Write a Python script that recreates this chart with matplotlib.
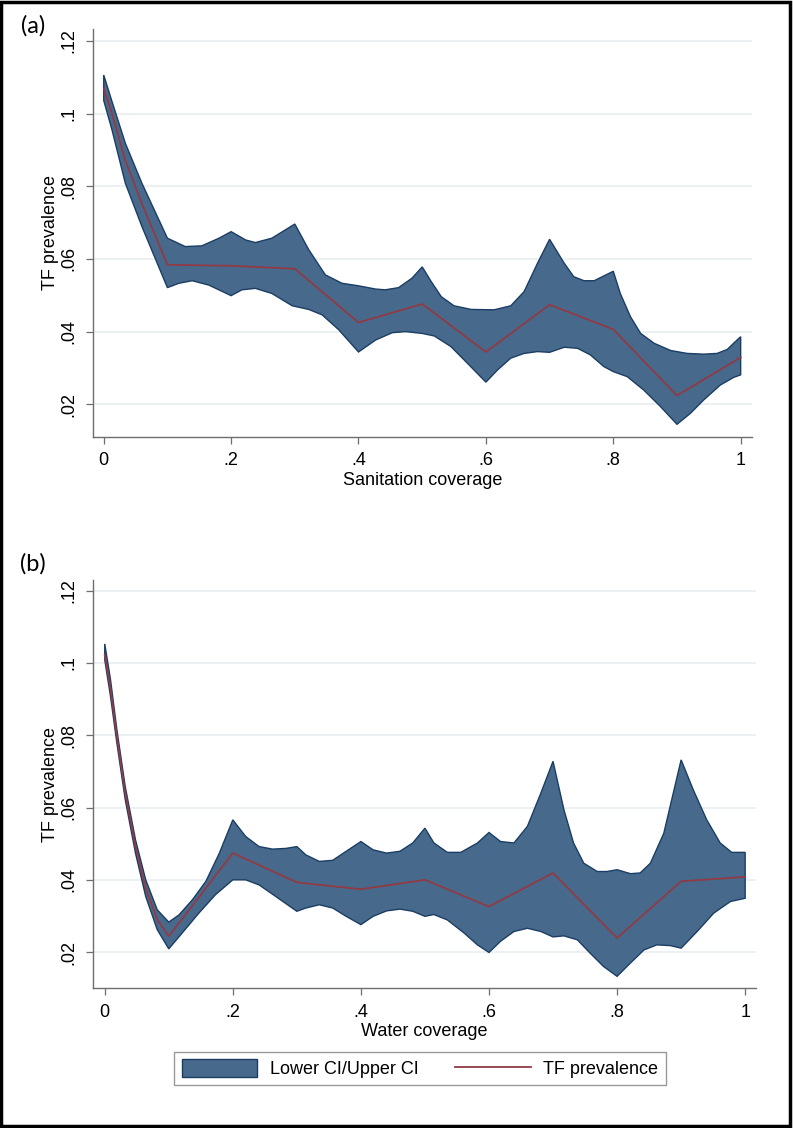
import matplotlib
matplotlib.use("Agg")
import matplotlib.pyplot as plt
from matplotlib.patches import Patch, Rectangle
from matplotlib.lines import Line2D
import numpy as np

plt.rcParams['font.family'] = ['Liberation Sans', 'DejaVu Sans']

# ---- panel (a): sanitation coverage ----
san_x = [0.0, 0.013, 0.034, 0.060, 0.1, 0.2, 0.3, 0.4, 0.5, 0.6, 0.7, 0.8, 0.9, 1.0]
san_tf = [0.1070, 0.1000, 0.0870, 0.0752, 0.0584, 0.0581, 0.0573, 0.0425, 0.0476,
          0.0344, 0.0474, 0.0406, 0.0224, 0.0329]

san_up_x = [0.000, 0.013, 0.034, 0.060, 0.100, 0.128, 0.154, 0.181, 0.200, 0.223,
            0.238, 0.264, 0.300, 0.322, 0.348, 0.374, 0.400, 0.427, 0.442, 0.463,
            0.484, 0.500, 0.514, 0.530, 0.550, 0.577, 0.613, 0.639, 0.660, 0.681,
            0.700, 0.723, 0.738, 0.754, 0.770, 0.785, 0.800, 0.811, 0.827, 0.843,
            0.864, 0.890, 0.916, 0.942, 0.963, 0.979, 0.989, 1.000]
san_up = [0.1106, 0.1033, 0.0918, 0.0808, 0.0657, 0.0634, 0.0636, 0.0657, 0.0675, 0.0652,
          0.0645, 0.0657, 0.0696, 0.0625, 0.0556, 0.0533, 0.0526, 0.0517, 0.0515, 0.0521,
          0.0547, 0.0578, 0.0538, 0.0496, 0.0471, 0.0461, 0.0460, 0.0471, 0.0510, 0.0588,
          0.0654, 0.0588, 0.0551, 0.0540, 0.0540, 0.0553, 0.0566, 0.0505, 0.0441, 0.0395,
          0.0368, 0.0348, 0.0340, 0.0338, 0.0340, 0.0351, 0.0368, 0.0386]

san_lo_x = [0.000, 0.013, 0.034, 0.060, 0.100, 0.118, 0.139, 0.165, 0.200, 0.217,
            0.238, 0.264, 0.296, 0.322, 0.343, 0.369, 0.400, 0.427, 0.453, 0.474,
            0.500, 0.519, 0.545, 0.571, 0.600, 0.618, 0.639, 0.660, 0.681, 0.700,
            0.723, 0.744, 0.764, 0.785, 0.800, 0.822, 0.848, 0.874, 0.900, 0.921,
            0.942, 0.968, 0.989, 1.000]
san_lo = [0.1036, 0.0955, 0.0808, 0.0689, 0.0521, 0.0533, 0.0540, 0.0528, 0.0499, 0.0515,
          0.0519, 0.0505, 0.0471, 0.0461, 0.0446, 0.0405, 0.0344, 0.0377, 0.0397, 0.0400,
          0.0395, 0.0388, 0.0359, 0.0313, 0.0261, 0.0294, 0.0327, 0.0340, 0.0345, 0.0343,
          0.0357, 0.0354, 0.0336, 0.0304, 0.0290, 0.0276, 0.0239, 0.0194, 0.0145, 0.0175,
          0.0212, 0.0253, 0.0274, 0.0281]

# ---- panel (b): water coverage ----
wat_x = [0.0, 0.009, 0.019, 0.032, 0.048, 0.064, 0.082, 0.1, 0.2, 0.3, 0.4, 0.5,
         0.6, 0.7, 0.8, 0.9, 1.0]
wat_tf = [0.1023, 0.0930, 0.0797, 0.0640, 0.0493, 0.0377, 0.0290, 0.0244, 0.0474, 0.0393,
          0.0374, 0.0400, 0.0326, 0.0419, 0.0239, 0.0396, 0.0408]

wat_up_x = [0.000, 0.009, 0.019, 0.032, 0.048, 0.064, 0.082, 0.100, 0.116, 0.137,
            0.158, 0.179, 0.200, 0.220, 0.241, 0.262, 0.283, 0.300, 0.314, 0.335,
            0.356, 0.377, 0.400, 0.419, 0.440, 0.461, 0.481, 0.500, 0.514, 0.535,
            0.556, 0.582, 0.600, 0.618, 0.639, 0.660, 0.681, 0.700, 0.717, 0.732,
            0.748, 0.769, 0.784, 0.800, 0.821, 0.836, 0.852, 0.873, 0.900, 0.919,
            0.940, 0.961, 0.979, 1.000]
wat_up = [0.1053, 0.0954, 0.0815, 0.0658, 0.0511, 0.0400, 0.0317, 0.0283, 0.0303, 0.0345,
          0.0396, 0.0474, 0.0566, 0.0520, 0.0492, 0.0485, 0.0487, 0.0492, 0.0469, 0.0451,
          0.0454, 0.0479, 0.0506, 0.0483, 0.0474, 0.0479, 0.0502, 0.0543, 0.0502, 0.0476,
          0.0476, 0.0502, 0.0531, 0.0506, 0.0502, 0.0548, 0.0640, 0.0728, 0.0594, 0.0502,
          0.0446, 0.0423, 0.0423, 0.0428, 0.0417, 0.0419, 0.0446, 0.0529, 0.0732, 0.0649,
          0.0566, 0.0502, 0.0476, 0.0476]

wat_lo_x = [0.000, 0.009, 0.019, 0.032, 0.048, 0.064, 0.082, 0.100, 0.121, 0.147,
            0.173, 0.200, 0.220, 0.241, 0.267, 0.300, 0.314, 0.335, 0.356, 0.377,
            0.400, 0.419, 0.440, 0.461, 0.481, 0.500, 0.514, 0.535, 0.561, 0.582,
            0.600, 0.618, 0.639, 0.660, 0.681, 0.700, 0.717, 0.738, 0.758, 0.779,
            0.800, 0.821, 0.842, 0.862, 0.883, 0.900, 0.925, 0.951, 0.977, 1.000]
wat_lo = [0.1009, 0.0908, 0.0778, 0.0622, 0.0474, 0.0354, 0.0262, 0.0209, 0.0253, 0.0308,
          0.0359, 0.0400, 0.0400, 0.0386, 0.0354, 0.0313, 0.0322, 0.0331, 0.0322, 0.0299,
          0.0276, 0.0299, 0.0314, 0.0319, 0.0313, 0.0299, 0.0304, 0.0289, 0.0253, 0.0220,
          0.0199, 0.0230, 0.0257, 0.0266, 0.0257, 0.0242, 0.0245, 0.0234, 0.0197, 0.0160,
          0.0133, 0.0170, 0.0206, 0.0220, 0.0218, 0.0211, 0.0257, 0.0308, 0.0340, 0.0349]

x_ticks = [0, 0.2, 0.4, 0.6, 0.8, 1.0]
x_ticklabels = ['0', '.2', '.4', '.6', '.8', '1']
y_ticks = [0.02, 0.04, 0.06, 0.08, 0.10, 0.12]
y_ticklabels = ['.02', '.04', '.06', '.08', '.1', '.12']

FILL = '#476a8c'
EDGE = '#1b3d63'
LINE = '#903a44'
GRID = '#e9f0f2'
AXC = '#6e6e6e'
FS = 13


def draw_panel(ax, up_x, up, lo_x, lo, x, tf, xlabel, ylim, xlim):
    poly_x = np.concatenate([up_x, lo_x[::-1]])
    poly_y = np.concatenate([up, lo[::-1]])
    ax.fill(poly_x, poly_y, facecolor=FILL, edgecolor=EDGE, lw=1.0, zorder=2)
    ax.plot(x, tf, color=LINE, lw=1.3, zorder=3)

    ax.set_xlim(xlim)
    ax.set_ylim(ylim)
    ax.set_xticks(x_ticks, labels=x_ticklabels)
    ax.set_yticks(y_ticks, labels=y_ticklabels)
    for lab in ax.get_yticklabels():
        lab.set_rotation(90)
        lab.set_va('center')
    ax.grid(axis='y', color=GRID, lw=1.3, zorder=0)
    ax.set_axisbelow(True)
    for s in ['top', 'right']:
        ax.spines[s].set_visible(False)
    for s in ['left', 'bottom']:
        ax.spines[s].set_color(AXC)
        ax.spines[s].set_linewidth(1.0)
    ax.tick_params(direction='out', length=5, width=0.9, color=AXC,
                   labelsize=FS, pad=6)
    ax.set_xlabel(xlabel, fontsize=FS, labelpad=2)
    ax.set_ylabel('TF prevalence', fontsize=FS, labelpad=1)


fig = plt.figure(figsize=(7.93, 11.28), dpi=100)

ax1 = fig.add_axes([0.1169, 0.6129, 0.8310, 0.3612])
draw_panel(ax1, san_up_x, san_up, san_lo_x, san_lo, san_x, san_tf,
           'Sanitation coverage', (0.0111, 0.1232), (-0.0173, 1.0173))

ax2 = fig.add_axes([0.1173, 0.1239, 0.8361, 0.3620])
draw_panel(ax2, wat_up_x, wat_up, wat_lo_x, wat_lo, wat_x, wat_tf,
           'Water coverage', (0.0100, 0.1230), (-0.0183, 1.0170))

fig.text(0.027, 0.977, '(a)', fontsize=17, family=['Lato', 'DejaVu Sans'],
         ha='left', va='center')
fig.text(0.025, 0.500, '(b)', fontsize=17, family=['Lato', 'DejaVu Sans'],
         ha='left', va='center')

handles = [Patch(facecolor=FILL, edgecolor=EDGE, lw=1.0, label='Lower CI/Upper CI'),
           Line2D([], [], color=LINE, lw=1.3, label='TF prevalence')]
leg = fig.legend(handles=handles, loc='center', bbox_to_anchor=(0.5296, 0.0527),
                 ncol=2, fontsize=FS, frameon=True, fancybox=False,
                 edgecolor='#808080', handlelength=4.2, handleheight=1.2,
                 handletextpad=0.7, columnspacing=2.0, borderpad=0.4)
leg.get_frame().set_linewidth(1.0)

fig.patches.append(Rectangle((0.0015, 0.0015), 0.9945, 0.997, transform=fig.transFigure,
                             fill=False, edgecolor='black', lw=2.5))

fig.savefig('out.png', dpi=100)
